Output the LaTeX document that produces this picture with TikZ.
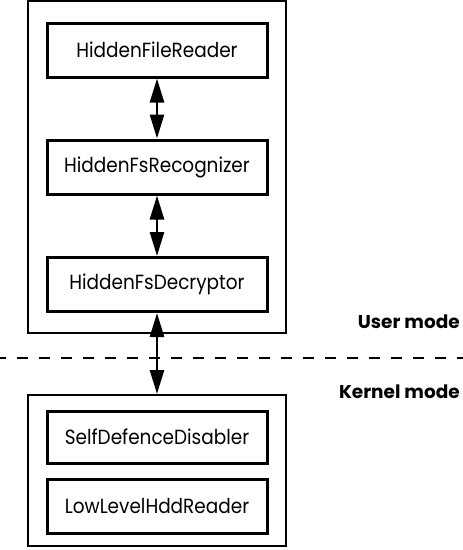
\documentclass[tikz,border=0pt]{standalone}
\usepackage{fontspec}
\setmainfont{Poppins}
\newfontfamily\compfont[FakeStretch=0.9]{Poppins}
\newfontfamily\labfont{Poppins}
\usetikzlibrary{arrows.meta}
\begin{document}
\begin{tikzpicture}[x=1pt,y=-1pt,
  outerbox/.style={draw,line width=2pt},
  comp/.style={draw,line width=3pt,minimum width=220pt,minimum height=54pt,inner sep=0pt,font=\compfont\fontsize{20.5}{22}\selectfont},
  modelabel/.style={anchor=east,font=\labfont\fontsize{18.5}{20}\selectfont\bfseries,inner sep=0pt},
  link/.style={line width=2.6pt,{Triangle[length=24pt,width=14pt]}-{Triangle[length=24pt,width=14pt]}}]
\useasboundingbox (0,0) rectangle (463,550);
\node[outerbox,minimum width=258pt,minimum height=332pt,inner sep=0pt] (user) at (157,167) {};
\node[outerbox,minimum width=258pt,minimum height=151pt,inner sep=0pt] (kernel) at (157,470.5) {};
\node[comp] (hfr) at (157,50) {HiddenFileReader};
\node[comp] (hfs) at (157,167) {HiddenFsRecognizer};
\node[comp] (hfd) at (157,284.5) {HiddenFsDecryptor};
\node[comp,minimum height=52pt] (sdd) at (157,437) {SelfDefenceDisabler};
\node[comp] (llh) at (157,506) {LowLevelHddReader};
\coordinate (dl) at (0,358);
\coordinate (dr) at (463,358);
\draw[line width=2.4pt,dash pattern=on 11pt off 11pt,dash phase=5pt] (dl) -- (dr);
\node[modelabel] (um) at (460,322) {User mode};
\node[modelabel] (km) at (460,392) {Kernel mode};
\draw[link] (hfr.south) -- (hfs.north);
\draw[link] (hfs.south) -- (hfd.north);
\draw[link] (hfd.south) -- (kernel.north);
\end{tikzpicture}
\end{document}
